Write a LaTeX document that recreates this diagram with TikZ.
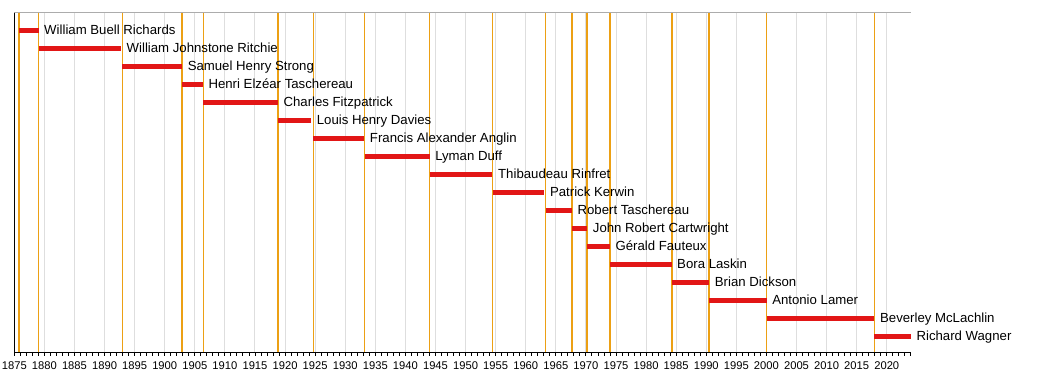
\documentclass[tikz,border=0pt]{standalone}
\usepackage{fontspec}
\setmainfont{Liberation Sans}
\definecolor{barred}{RGB}{226,22,22}
\definecolor{termline}{RGB}{236,160,20}
\definecolor{gridgray}{RGB}{222,222,222}
\begin{document}
\begin{tikzpicture}[x=1pt,y=-1pt,line cap=butt,font=\fontsize{13.2}{15}\selectfont,
	declare function={px(\t)=14.3+6.017*(\t-1875);}]
	\def\ytop{12.5} \def\yaxis{352.3} % top edge and time axis
	\def\tmin{1875} \def\tmax{2024}
	\useasboundingbox (0,0) rectangle (1050,372);
	% grid every five years
	\foreach \t in {1880,1885,...,2020}
		\draw[gridgray,line width=1pt] ({px(\t)},\ytop)--({px(\t)},\yaxis);
	\draw[gray!65,line width=1pt] ({px(\tmin)},\ytop)--({px(\tmax)},\ytop);
	% start of each term
	\foreach \s in {1875.75,1879.03,1892.95,1902.89,1906.42,1918.81,1924.71,1933.21,1944.02,
		1954.50,1963.30,1967.67,1970.22,1973.99,1984.30,1990.50,2000.02,2017.96}
		\draw[termline,line width=1.6pt] ({px(\s)},\ytop)--({px(\s)},\yaxis);
	% axes
	\draw[line width=1pt] ({px(\tmin)},\ytop)--({px(\tmin)},\yaxis)--({px(\tmax)},\yaxis);
	\foreach \t in {\tmin,...,\tmax}
		\draw[line width=0.9pt] ({px(\t)},\yaxis)--({px(\t)},\yaxis+4);
	\foreach \t in {1875,1880,...,2020}
		\node (yr\t) at ({px(\t)},369.5) [anchor=base,inner sep=0pt,font=\fontsize{11.2}{12}\selectfont]{\t};
	% chief justices
	\foreach \s/\e/\name [count=\i] in {
		1875.75/1879.03/William Buell Richards,
		1879.03/1892.73/William Johnstone Ritchie,
		1892.95/1902.88/Samuel Henry Strong,
		1902.89/1906.33/Henri Elzéar Taschereau,
		1906.42/1918.80/Charles Fitzpatrick,
		1918.81/1924.33/Louis Henry Davies,
		1924.71/1933.16/Francis Alexander Anglin,
		1933.21/1944.02/Lyman Duff,
		1944.02/1954.47/Thibaudeau Rinfret,
		1954.50/1963.09/Patrick Kerwin,
		1963.30/1967.67/Robert Taschereau,
		1967.67/1970.22/John Robert Cartwright,
		1970.22/1973.98/Gérald Fauteux,
		1973.99/1984.23/Bora Laskin,
		1984.30/1990.49/Brian Dickson,
		1990.50/2000.02/Antonio Lamer,
		2000.02/2017.95/Beverley McLachlin,
		2017.96/2024.00/Richard Wagner}
		\draw[barred,line width=5pt] ({px(\s)},{30+18*(\i-1)})--({px(\e)},{30+18*(\i-1)})
			node (cj\i) [anchor=base west,inner sep=0pt,xshift=3.2pt,yshift=-4.7pt,text=black]{\name};
\end{tikzpicture}
\end{document}
